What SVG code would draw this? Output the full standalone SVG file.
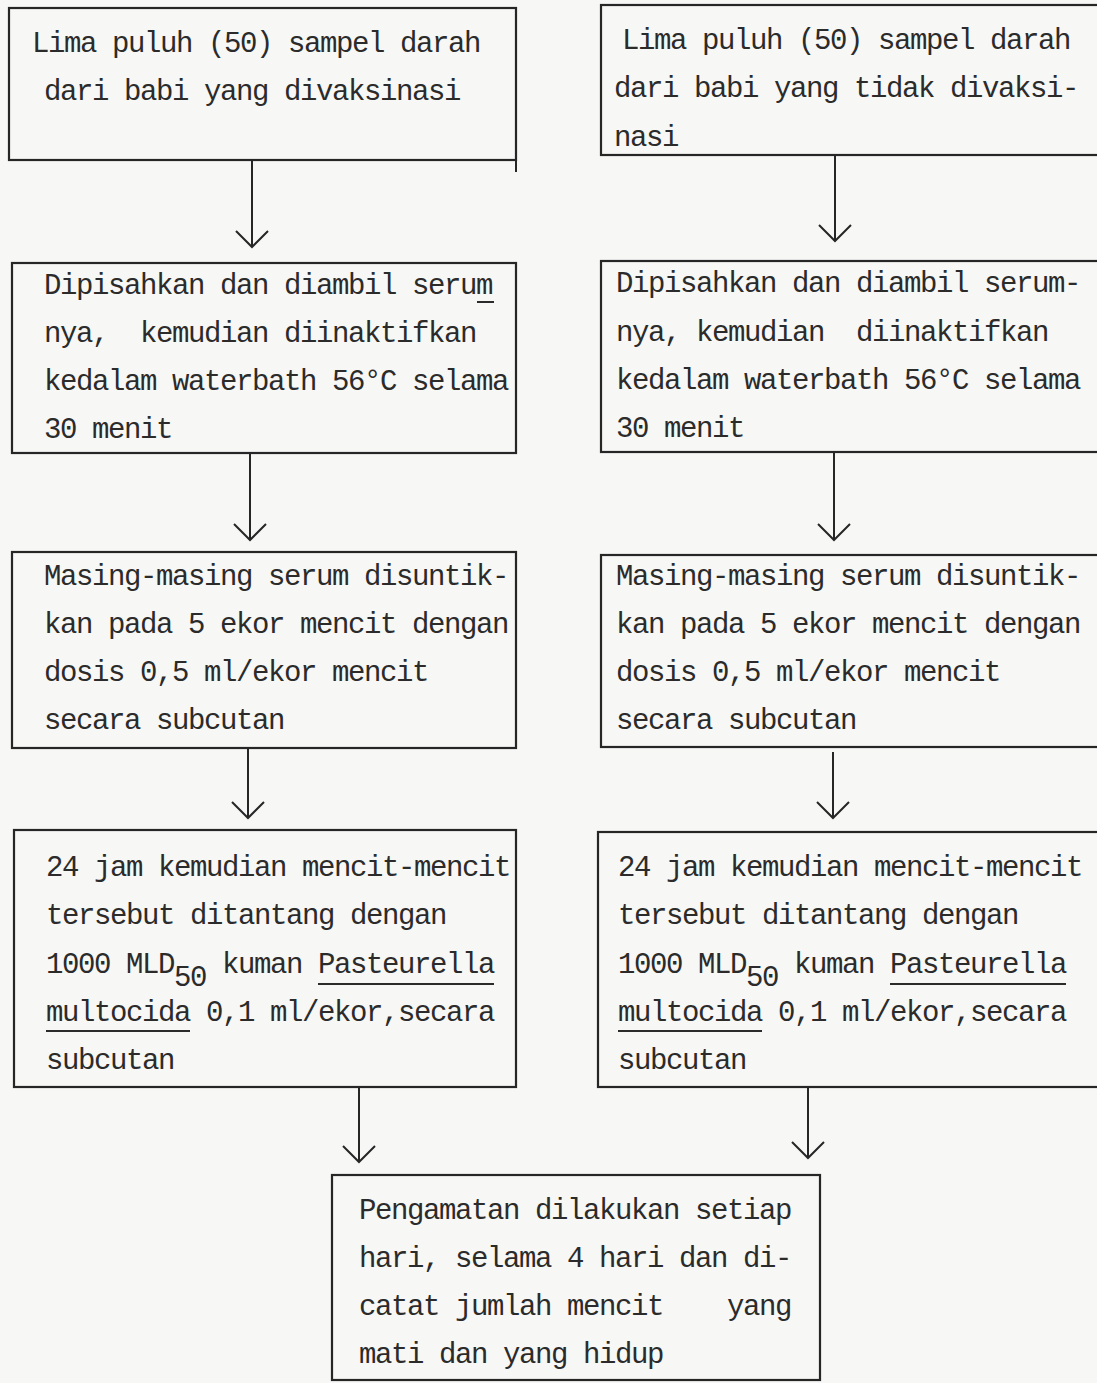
<svg xmlns="http://www.w3.org/2000/svg" width="1097" height="1383" viewBox="0 0 1097 1383">
<style>
.box{fill:none;stroke:#262626;stroke-width:2.2}
.t{font-family:"Liberation Mono","DejaVu Sans Mono",monospace;font-size:29px;letter-spacing:-1.4px;fill:#2b2b2b;white-space:pre}
.ul{stroke:#2b2b2b;stroke-width:2}
.con{stroke:#262626;stroke-width:2;fill:none}
</style>
<defs>
<marker id="v" markerUnits="userSpaceOnUse" markerWidth="40" markerHeight="40" refX="0" refY="0" viewBox="-20 -20 40 40" orient="auto" overflow="visible">
<path d="M-16,-16 L0,0 L-16,16" fill="none" stroke="#262626" stroke-width="2"/>
</marker>
</defs>
<rect width="1097" height="1383" fill="#f7f7f5"/>

<g id="connectors">
<line class="con" x1="252" y1="160" x2="252" y2="247" marker-end="url(#v)"/>
<line class="con" x1="835" y1="155" x2="835" y2="241" marker-end="url(#v)"/>
<line class="con" x1="250" y1="453" x2="250" y2="540" marker-end="url(#v)"/>
<line class="con" x1="834" y1="452" x2="834" y2="540" marker-end="url(#v)"/>
<line class="con" x1="248" y1="748" x2="248" y2="818" marker-end="url(#v)"/>
<line class="con" x1="833" y1="752" x2="833" y2="818" marker-end="url(#v)"/>
<line class="con" x1="359" y1="1087" x2="359" y2="1162" marker-end="url(#v)"/>
<line class="con" x1="808" y1="1087" x2="808" y2="1158" marker-end="url(#v)"/>
</g>

<g id="node-L1">
<rect class="box" x="9" y="8" width="507" height="152"/>
<line class="con" x1="516" y1="160" x2="516" y2="172"/>
<text class="t" x="32" y="52" xml:space="preserve">Lima puluh (50) sampel darah</text>
<text class="t" x="44" y="100" xml:space="preserve">dari babi yang divaksinasi</text>
</g>

<g id="node-R1">
<rect class="box" x="601" y="5" width="510" height="150"/>
<text class="t" x="622" y="49" xml:space="preserve">Lima puluh (50) sampel darah</text>
<text class="t" x="614" y="97" xml:space="preserve">dari babi yang tidak divaksi-</text>
<text class="t" x="614" y="146" xml:space="preserve">nasi</text>
</g>

<g id="node-L2">
<rect class="box" x="12" y="263" width="504" height="190"/>
<text class="t" x="44" y="294" xml:space="preserve">Dipisahkan dan diambil serum</text>
<line class="ul" x1="477" y1="302" x2="494" y2="302"/>
<text class="t" x="44" y="342" xml:space="preserve">nya,  kemudian diinaktifkan</text>
<text class="t" x="44" y="390" xml:space="preserve">kedalam waterbath 56°C selama</text>
<text class="t" x="44" y="438" xml:space="preserve">30 menit</text>
</g>

<g id="node-R2">
<rect class="box" x="601" y="261" width="510" height="191"/>
<text class="t" x="616" y="292" xml:space="preserve">Dipisahkan dan diambil serum-</text>
<text class="t" x="616" y="341" xml:space="preserve">nya, kemudian  diinaktifkan</text>
<text class="t" x="616" y="389" xml:space="preserve">kedalam waterbath 56°C selama</text>
<text class="t" x="616" y="437" xml:space="preserve">30 menit</text>
</g>

<g id="node-L3">
<rect class="box" x="12" y="552" width="504" height="196"/>
<text class="t" x="44" y="585" xml:space="preserve">Masing-masing serum disuntik-</text>
<text class="t" x="44" y="633" xml:space="preserve">kan pada 5 ekor mencit dengan</text>
<text class="t" x="44" y="681" xml:space="preserve">dosis 0,5 ml/ekor mencit</text>
<text class="t" x="44" y="729" xml:space="preserve">secara subcutan</text>
</g>

<g id="node-R3">
<rect class="box" x="601" y="555" width="510" height="192"/>
<text class="t" x="616" y="585" xml:space="preserve">Masing-masing serum disuntik-</text>
<text class="t" x="616" y="633" xml:space="preserve">kan pada 5 ekor mencit dengan</text>
<text class="t" x="616" y="681" xml:space="preserve">dosis 0,5 ml/ekor mencit</text>
<text class="t" x="616" y="729" xml:space="preserve">secara subcutan</text>
</g>

<g id="node-L4">
<rect class="box" x="14" y="830" width="502" height="257"/>
<text class="t" x="46" y="876" xml:space="preserve">24 jam kemudian mencit-mencit</text>
<text class="t" x="46" y="924" xml:space="preserve">tersebut ditantang dengan</text>
<text class="t" x="46" y="973" xml:space="preserve">1000 MLD<tspan dy="13">50</tspan><tspan dy="-13"> kuman Pasteurella</tspan></text>
<line class="ul" x1="318" y1="984" x2="494" y2="984"/>
<text class="t" x="46" y="1021" xml:space="preserve">multocida 0,1 ml/ekor,secara</text>
<line class="ul" x1="46" y1="1031" x2="190" y2="1031"/>
<text class="t" x="46" y="1069" xml:space="preserve">subcutan</text>
</g>

<g id="node-R4">
<rect class="box" x="598" y="832" width="513" height="255"/>
<text class="t" x="618" y="876" xml:space="preserve">24 jam kemudian mencit-mencit</text>
<text class="t" x="618" y="924" xml:space="preserve">tersebut ditantang dengan</text>
<text class="t" x="618" y="973" xml:space="preserve">1000 MLD<tspan dy="13">50</tspan><tspan dy="-13"> kuman Pasteurella</tspan></text>
<line class="ul" x1="890" y1="984" x2="1066" y2="984"/>
<text class="t" x="618" y="1021" xml:space="preserve">multocida 0,1 ml/ekor,secara</text>
<line class="ul" x1="618" y1="1031" x2="762" y2="1031"/>
<text class="t" x="618" y="1069" xml:space="preserve">subcutan</text>
</g>

<g id="node-B">
<rect class="box" x="332" y="1175" width="488" height="205"/>
<text class="t" x="359" y="1219" xml:space="preserve">Pengamatan dilakukan setiap</text>
<text class="t" x="359" y="1267" xml:space="preserve">hari, selama 4 hari dan di-</text>
<text class="t" x="359" y="1315" xml:space="preserve">catat jumlah mencit    yang</text>
<text class="t" x="359" y="1363" xml:space="preserve">mati dan yang hidup</text>
</g>
</svg>
